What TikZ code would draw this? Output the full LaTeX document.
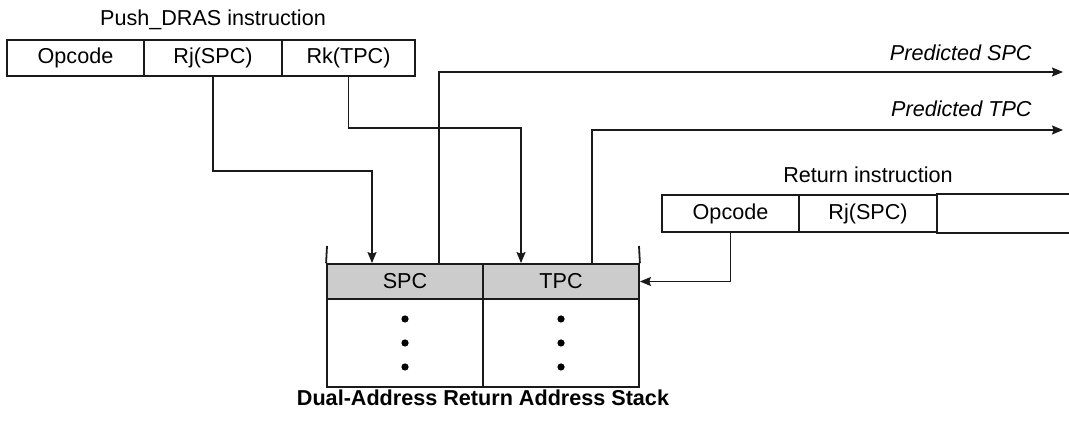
\documentclass[tikz,border=0pt]{standalone}
\usepackage{fontspec}
\setmainfont{Liberation Sans}
\usepackage{tikz}
\usepackage{xcolor}
\usetikzlibrary{arrows.meta, positioning, calc}
\definecolor{darkline}{HTML}{1A1A1A}
\definecolor{bandgray}{HTML}{CCCCCC}
\newcommand{\figfont}{\fontsize{10.8pt}{12.5pt}\selectfont}

\begin{document}
\begin{tikzpicture}[x=0.5pt, y=-0.5pt,
            field/.style={draw=darkline, line width=0.9pt, minimum height=18pt, inner sep=0pt, font=\figfont},
            band/.style={field, fill=bandgray, minimum width=78pt, minimum height=17.5pt},
            cell/.style={field, minimum width=78pt, minimum height=44pt},
            title/.style={anchor=base, inner sep=0pt, font=\figfont},
            lbl/.style={anchor=base east, inner sep=0pt, font=\figfont\itshape},
            dot/.style={circle, fill=black, minimum size=3.6pt, inner sep=0pt},
            conn/.style={draw=darkline, line width=0.75pt, -{Stealth[length=5.5pt, width=4.5pt, inset=0.8pt]}},
            wall/.style={draw=darkline, line width=0.9pt}]
            \useasboundingbox (0,0) rectangle (1069,421);
            % Push_DRAS instruction
            \node[field, minimum width=68.5pt] (pOp) at (75.5,58) {Opcode};
            \node[field, minimum width=69pt] (pRj) at (213,58) {Rj(SPC)};
            \node[field, minimum width=66.5pt] (pRk) at (348.5,58) {Rk(TPC)};
            \node[title] (pTitle) at (213,26) {Push\_DRAS instruction};
            % Return instruction
            \node[field, minimum width=68.5pt, minimum height=18.5pt] (rOp) at (730.5,213.5) {Opcode};
            \node[field, minimum width=69pt, minimum height=18.5pt] (rRj) at (868,213.5) {Rj(SPC)};
            \node[field, draw=none, minimum width=66pt, minimum height=18.5pt] (rRest) at (1003,213.5) {};
            \draw[wall] (rRest.north west) -- (rRest.north east);
            \draw[wall] (rRest.south west) -- (rRest.south east);
            \node[title] (rTitle) at (868,183) {Return instruction};
            % stack
            \node[band] (sSPC) at (405,281.5) {SPC};
            \node[band] (sTPC) at (561,281.5) {TPC};
            \node[cell] (sLow) at (405,343) {};
            \node[cell] (sHigh) at (561,343) {};
            \coordinate (wallL) at (327,246);
            \coordinate (wallR) at (639,246);
            \draw[wall] (wallL) -- (sSPC.north west);
            \draw[wall] (wallR) -- (sTPC.north east);
            \foreach \y [count=\k] in {319,343,367} {
                \node[dot] (dL\k) at (405,\y) {};
                \node[dot] (dR\k) at (561,\y) {};
            }
            \node[title, font=\figfont\bfseries] (sTitle) at (483,406) {Dual-Address Return Address Stack};
            % connectors
            \draw[conn] (pRj.south) -- ++(0,94) -| ([xshift=-16.5pt]sSPC.north);
            \draw[conn] (pRk.south) -- ++(0,51) -| ([xshift=-20pt]sTPC.north);
            \draw[conn] (rOp.south) |- (sTPC.east);
            \coordinate (outS) at (1063,72);
            \coordinate (outT) at (1063,130);
            \draw[conn] ([xshift=17pt]sSPC.north) |- (outS);
            \draw[conn] ([xshift=15.5pt]sTPC.north) |- (outT);
            \node[lbl] (labS) at (1032,61) {Predicted SPC};
            \node[lbl] (labT) at (1032,117) {Predicted TPC};
        \end{tikzpicture}
\end{document}
